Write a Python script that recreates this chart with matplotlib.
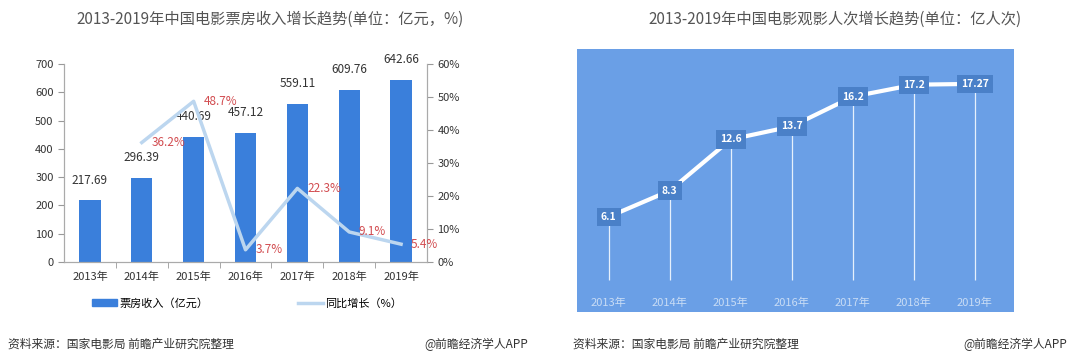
import matplotlib
matplotlib.use("Agg")
import matplotlib.pyplot as plt
from matplotlib.lines import Line2D
from matplotlib.patches import Patch

plt.rcParams['font.family'] = ['Noto Sans CJK SC', 'DejaVu Sans']

years = ['2013年', '2014年', '2015年', '2016年', '2017年', '2018年', '2019年']
box_office = [217.69, 296.39, 440.69, 457.12, 559.11, 609.76, 642.66]
growth_years = years[1:]
growth = [36.2, 48.7, 3.7, 22.3, 9.1, 5.4]
admissions = [6.1, 8.3, 12.6, 13.7, 16.2, 17.2, 17.27]

W, H = 1080, 355
fig = plt.figure(figsize=(W / 100, H / 100), dpi=100)
fig.patch.set_facecolor('white')

def box(x0, y0, x1, y1):
    return [x0 / W, 1 - y1 / H, (x1 - x0) / W, (y1 - y0) / H]

# ---- left chart: box office ----
ax = fig.add_axes(box(64, 64, 427, 262))
xs = list(range(len(years)))
ax.bar(xs, box_office, width=0.41, color='#3a7fdb', zorder=2)
for x, v in zip(xs, box_office):
    ax.annotate(f'{v:.2f}', (x, v), xytext=(0, 10), textcoords='offset points',
                ha='center', va='bottom', fontsize=8.5, color='#333333')
ax.set_xlim(-0.5, 6.5)
ax.set_ylim(0, 700)
ax.set_yticks(range(0, 701, 100))
ax.set_xticks(xs)
ax.set_xticklabels(years, fontsize=8, color='#333333')
ax.set_xticks([x + 0.5 for x in xs[:-1]], minor=True)
ax.tick_params(axis='x', which='major', length=0, pad=7)
ax.tick_params(axis='x', which='minor', length=4, color='#999999')
ax.tick_params(axis='y', labelsize=8, labelcolor='#333333', length=4, color='#999999')
ax.spines['top'].set_visible(False)
for s in ['left', 'bottom', 'right']:
    ax.spines[s].set_color('#aaaaaa')

ax2 = ax.twinx()
gx = xs[1:]
ax2.plot(gx, growth, color='#bcd6ef', lw=2.5, zorder=3)
for x, v in zip(gx, growth):
    ax2.annotate(f'{v}%', (x, v), xytext=(7, 0), textcoords='offset points',
                 ha='left', va='center', fontsize=8.5, color='#d24c50')
ax2.set_ylim(0, 60)
ax2.set_yticks(range(0, 61, 10))
ax2.set_yticklabels([f'{t}%' for t in range(0, 61, 10)])
ax2.tick_params(axis='y', labelsize=8, labelcolor='#333333', length=4, color='#999999')
ax2.spines['top'].set_visible(False)
for s in ['left', 'bottom', 'right']:
    ax2.spines[s].set_color('#aaaaaa')

fig.text(270 / W, 1 - 19 / H, '2013-2019年中国电影票房收入增长趋势(单位：亿元，%)',
         ha='center', va='center', fontsize=11, color='#555555')

handles = [Patch(color='#3a7fdb', label='票房收入（亿元）'),
           Line2D([], [], color='#bcd6ef', lw=2.5, label='同比增长（%）')]
fig.legend(handles=handles, loc='center', bbox_to_anchor=(247 / W, 1 - 303 / H),
           ncol=2, frameon=False, fontsize=8, columnspacing=8, handlelength=2.3,
           handletextpad=0.2, handleheight=0.5)

fig.text(8 / W, 1 - 344 / H, '资料来源：国家电影局 前瞻产业研究院整理',
         ha='left', va='center', fontsize=8.5, color='#333333')
fig.text(528 / W, 1 - 344 / H, '@前瞻经济学人APP',
         ha='right', va='center', fontsize=8.5, color='#333333')

# ---- right chart: admissions ----
bx = fig.add_axes(box(577, 49, 1014, 312))
bx.set_facecolor('#6a9fe6')
for s in bx.spines.values():
    s.set_visible(False)
bx.set_xlim(-0.52, 6.64)
bx.set_ylim(-1.9, 20.2)
bx.set_xticks([])
bx.set_yticks([])
bx.vlines(xs, 0.8, admissions, color='#e6f0fc', lw=0.9, zorder=1)
bx.plot(xs, admissions, color='white', lw=3, zorder=2, solid_capstyle='round')
for x, v in zip(xs, admissions):
    bx.text(x, v, f'{v:g}', ha='center', va='center', fontsize=7.5, color='white',
            fontweight='bold', zorder=3,
            bbox=dict(boxstyle='square,pad=0.4', fc='#4a80c8', ec='none'))
for x, lab in zip(xs, years):
    bx.text(x, -1.15, lab, ha='center', va='center', fontsize=8, color='#c8dcf5')

fig.text(835 / W, 1 - 19 / H, '2013-2019年中国电影观影人次增长趋势(单位：亿人次)',
         ha='center', va='center', fontsize=11, color='#555555')
fig.text(573 / W, 1 - 344 / H, '资料来源：国家电影局 前瞻产业研究院整理',
         ha='left', va='center', fontsize=8.5, color='#333333')
fig.text(1067 / W, 1 - 344 / H, '@前瞻经济学人APP',
         ha='right', va='center', fontsize=8.5, color='#333333')

fig.savefig('out.png', dpi=100)
